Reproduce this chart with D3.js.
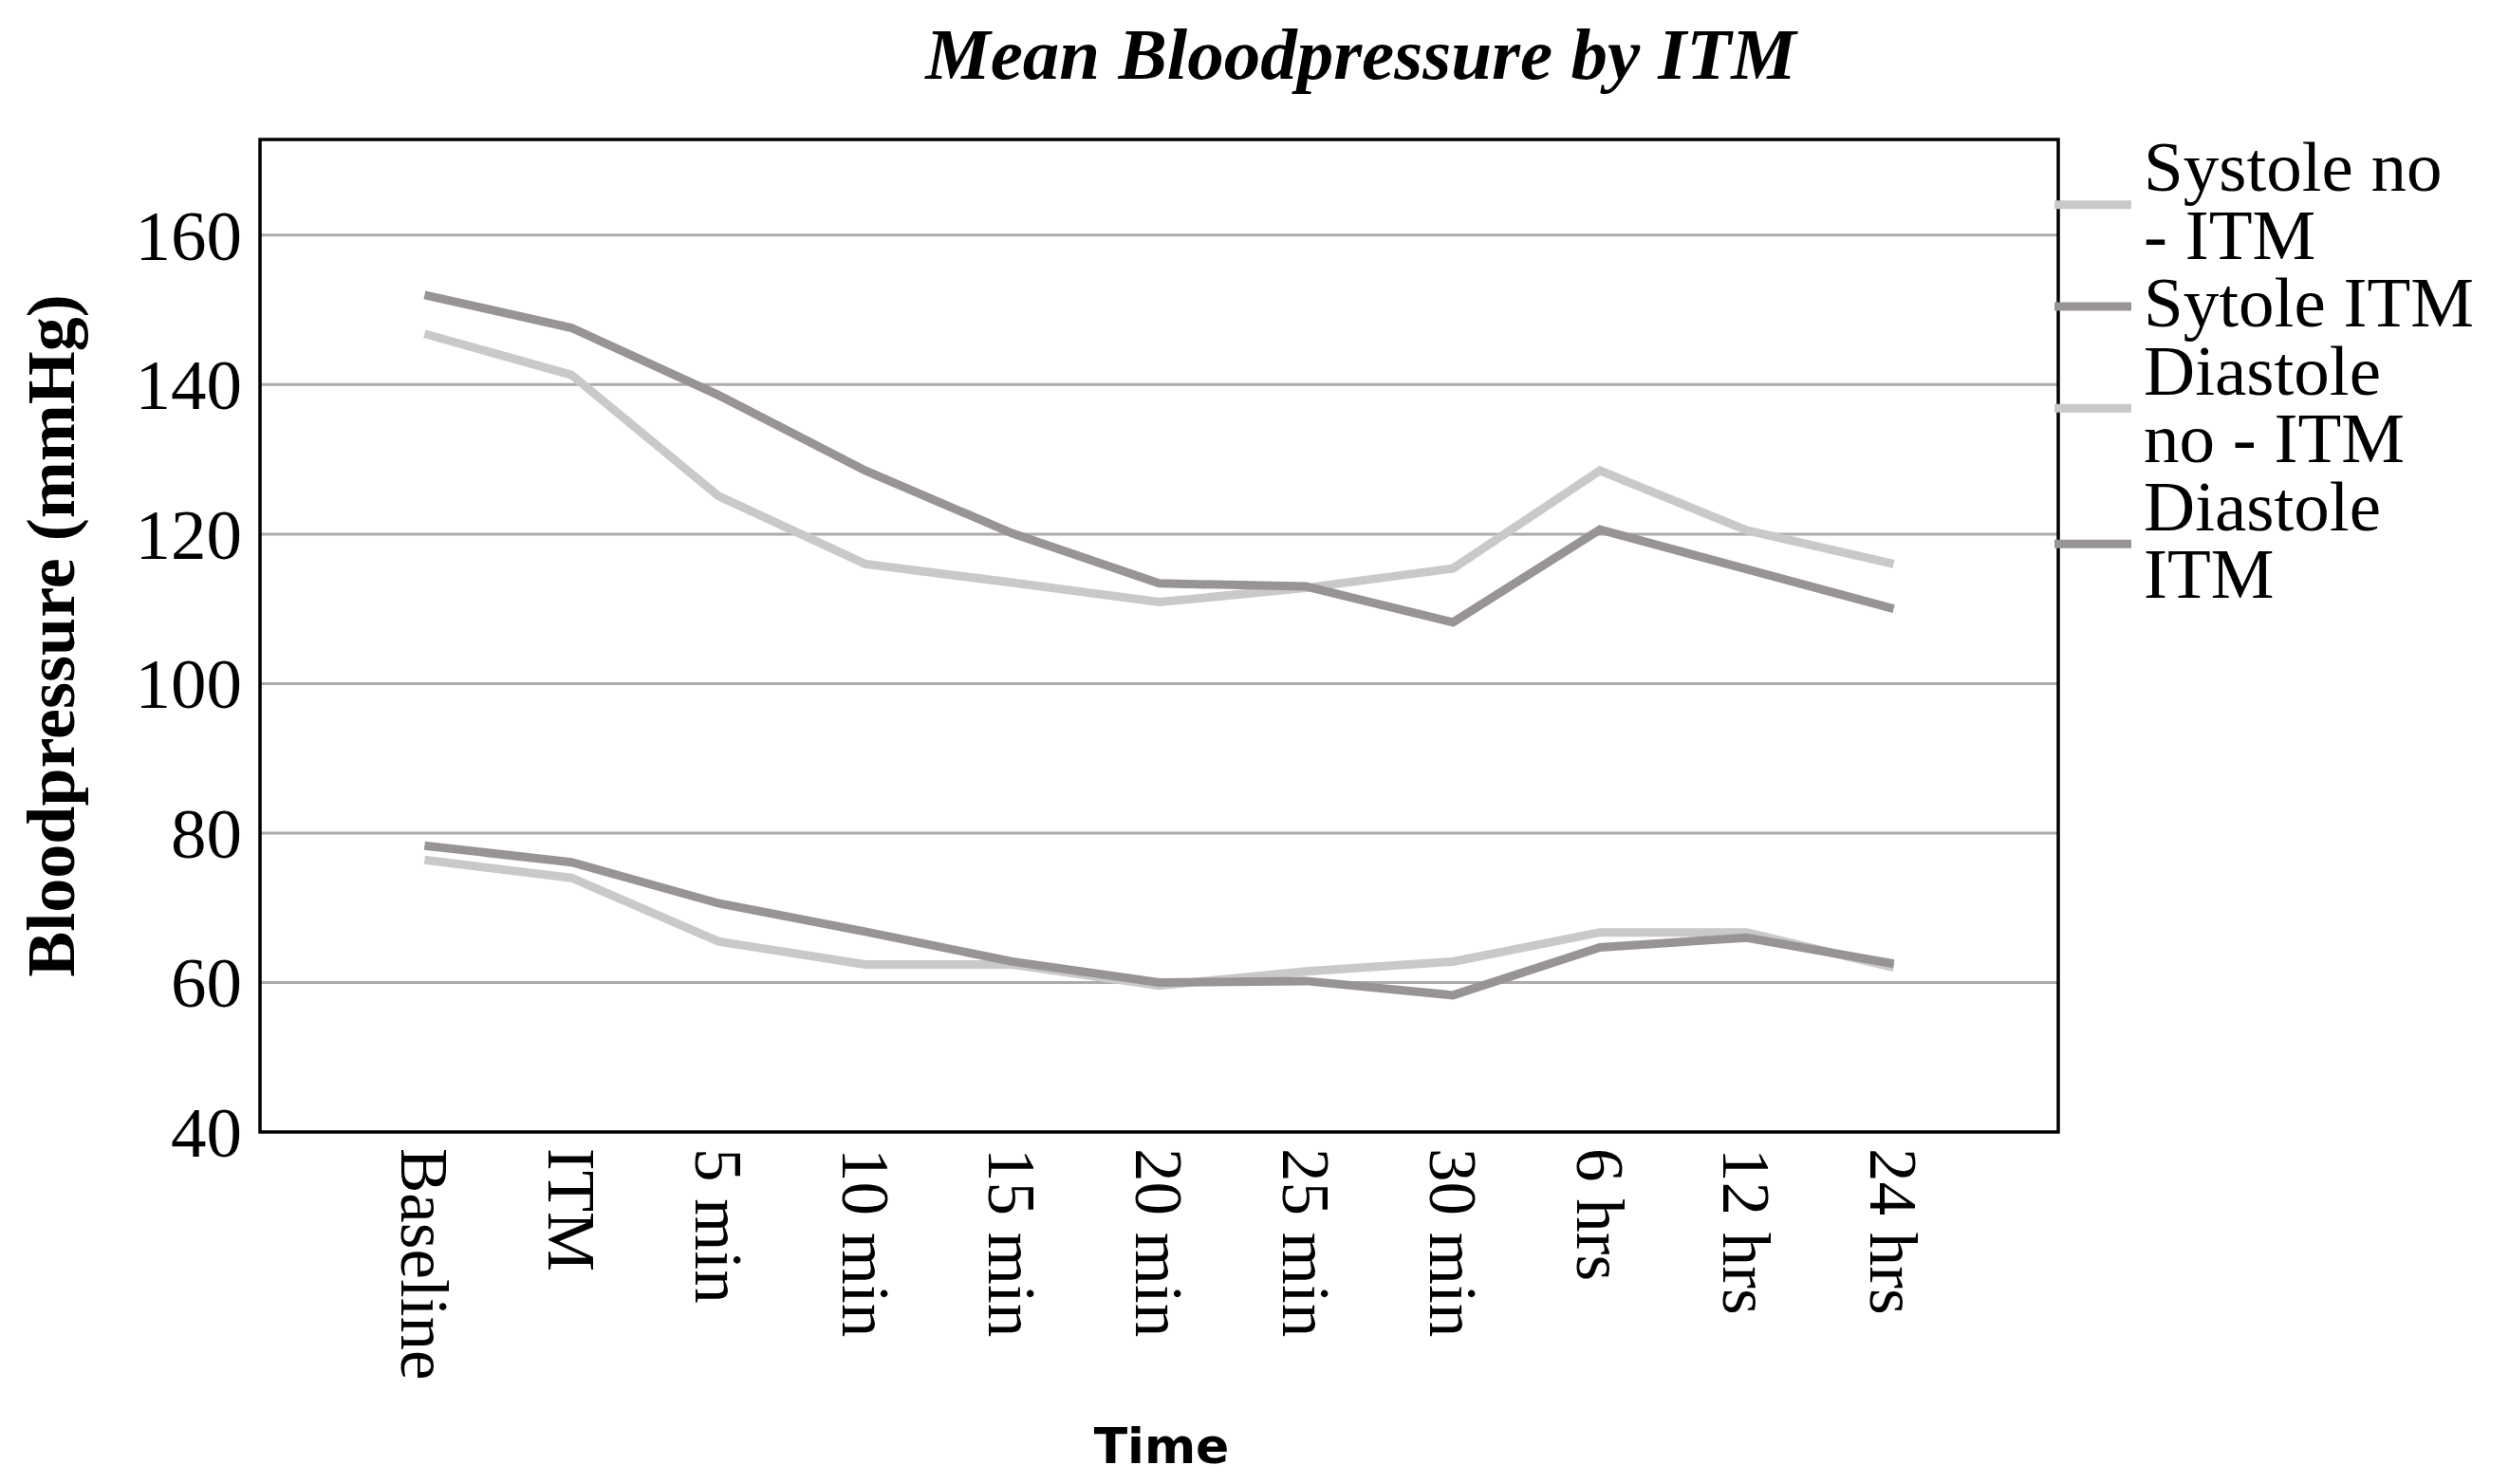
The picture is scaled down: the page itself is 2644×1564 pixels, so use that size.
<!DOCTYPE html>
<html>
<head>
<meta charset="utf-8">
<script src="https://cdn.jsdelivr.net/npm/d3@7"></script>
<style>
  body { margin: 0; background: #fff; }
  svg { display: block; }
</style>
</head>
<body>
<div id="chart"></div>
<script>
/* CONSTANTS AND GLOBALS */
const width = 2644,
  height = 1564,
  margin = { top: 147, bottom: 371, left: 274, right: 475 };

const serif = "'Liberation Serif', 'Times New Roman', serif";

/* DATA */
const timepoints = ["Baseline", "ITM", "5 min", "10 min", "15 min", "20 min", "25 min", "30 min", "6 hrs", "12 hrs", "24 hrs"];

const systoleNoItm = [146.8, 141.3, 125.1, 116.0, 113.5, 110.9, 112.8, 115.4, 128.5, 120.5, 116.0];
const systoleItm = [152.0, 147.6, 138.6, 128.5, 120.1, 113.4, 113.0, 108.2, 120.6, 115.3, 110.0];
const diastoleNoItm = [76.4, 74.0, 65.5, 62.4, 62.4, 59.6, 61.5, 62.8, 66.7, 66.7, 62.0];
const diastoleItm = [78.3, 76.1, 70.6, 66.8, 62.8, 60.0, 60.2, 58.3, 64.7, 66.0, 62.5];

const seriesNames = ["Systole no - ITM", "Sytole ITM", "Diastole no - ITM", "Diastole ITM"];
// legend labels wrap like in the original
const legendLines = [["Systole no", "- ITM"], ["Sytole ITM"], ["Diastole", "no - ITM"], ["Diastole", "ITM"]];
const seriesColors = ["#c9c9c9", "#989494", "#c9c9c9", "#989494"];

const yTicks = [40, 60, 80, 100, 120, 140, 160];
const yMax = 172.8;

const series = [systoleNoItm, systoleItm, diastoleNoItm, diastoleItm].map((values, i) => ({
  name: seriesNames[i],
  color: seriesColors[i],
  values: values.map((v, j) => ({ time: timepoints[j], value: v }))
}));

let svg, xScale, yScale;

init();

function init() {
  // + SCALES
  xScale = d3.scalePoint()
    .domain(timepoints)
    .range([margin.left, width - margin.right])
    .padding(1.12);

  yScale = d3.scaleLinear()
    .domain([40, yMax])
    .range([height - margin.bottom, margin.top]);

  svg = d3.select("#chart")
    .append("svg")
    .attr("width", width)
    .attr("height", height);

  svg.append("rect")
    .attr("width", width)
    .attr("height", height)
    .attr("fill", "#fff");

  // gridlines
  svg.append("g")
    .attr("class", "grid")
    .selectAll("line")
    .data(yTicks.filter(d => d > 40))
    .join("line")
    .attr("x1", margin.left)
    .attr("x2", width - margin.right)
    .attr("y1", d => yScale(d))
    .attr("y2", d => yScale(d))
    .attr("stroke", "#ababab")
    .attr("stroke-width", 3);

  // + AXES
  const yAxis = d3.axisLeft(yScale)
    .tickValues(yTicks)
    .tickSize(0)
    .tickPadding(19);

  const yG = svg.append("g")
    .attr("class", "axis y-axis")
    .attr("transform", `translate(${margin.left},0)`)
    .call(yAxis);
  yG.select(".domain").remove();
  yG.selectAll("text")
    .attr("font-family", serif)
    .attr("font-size", 75)
    .attr("fill", "#000")
    .attr("dy", "0.34em");

  const xAxis = d3.axisBottom(xScale).tickSize(0);

  const xG = svg.append("g")
    .attr("class", "axis x-axis")
    .attr("transform", `translate(0,${height - margin.bottom})`)
    .call(xAxis);
  xG.select(".domain").remove();
  xG.selectAll("text")
    .attr("font-family", serif)
    .attr("font-size", 71)
    .attr("fill", "#000")
    .attr("text-anchor", "start")
    .attr("x", 0)
    .attr("y", 0)
    .attr("dy", "0.35em")
    .attr("transform", "translate(0,17) rotate(90)");

  // + LINES
  const line = d3.line()
    .x(d => xScale(d.time))
    .y(d => yScale(d.value));

  svg.append("g")
    .attr("class", "lines")
    .selectAll("path")
    .data(series)
    .join("path")
    .attr("d", d => line(d.values))
    .attr("fill", "none")
    .attr("stroke", d => d.color)
    .attr("stroke-width", 9);

  // plot frame
  svg.append("rect")
    .attr("x", margin.left)
    .attr("y", margin.top)
    .attr("width", width - margin.left - margin.right)
    .attr("height", height - margin.top - margin.bottom)
    .attr("fill", "none")
    .attr("stroke", "#000")
    .attr("stroke-width", 3.5);

  // + TITLES
  svg.append("text")
    .attr("x", 1434)
    .attr("y", 83)
    .attr("text-anchor", "middle")
    .attr("font-family", serif)
    .attr("font-weight", "bold")
    .attr("font-style", "italic")
    .attr("font-size", 77)
    .text("Mean Bloodpressure by ITM");

  svg.append("text")
    .attr("transform", `translate(78,${(margin.top + height - margin.bottom) / 2}) rotate(-90)`)
    .attr("text-anchor", "middle")
    .attr("font-family", serif)
    .attr("font-weight", "bold")
    .attr("font-size", 72)
    .text("Bloodpressure (mmHg)");

  svg.append("text")
    .attr("x", 1224)
    .attr("y", 1542)
    .attr("text-anchor", "middle")
    .attr("font-family", "'DejaVu Sans', sans-serif")
    .attr("font-weight", "bold")
    .attr("font-size", 52)
    .text("Time");

  // + LEGEND
  const lineH = 71.5;
  let row = 0;
  const legend = svg.append("g").attr("class", "legend");
  series.forEach((s, i) => {
    const lines = legendLines[i];
    const first = 201 + row * lineH;
    const mid = first + (lines.length - 1) * lineH / 2 - 21;
    legend.append("line")
      .attr("x1", width - margin.right - 4)
      .attr("x2", 2246)
      .attr("y1", mid)
      .attr("y2", mid)
      .attr("stroke", s.color)
      .attr("stroke-width", 9);
    const label = legend.append("text")
      .attr("font-family", serif)
      .attr("font-size", 75)
      .attr("fill", "#000");
    lines.forEach((t, k) => {
      label.append("tspan")
        .attr("x", 2259)
        .attr("y", first + k * lineH)
        .text(t);
    });
    row += lines.length;
  });
}
</script>
</body>
</html>
